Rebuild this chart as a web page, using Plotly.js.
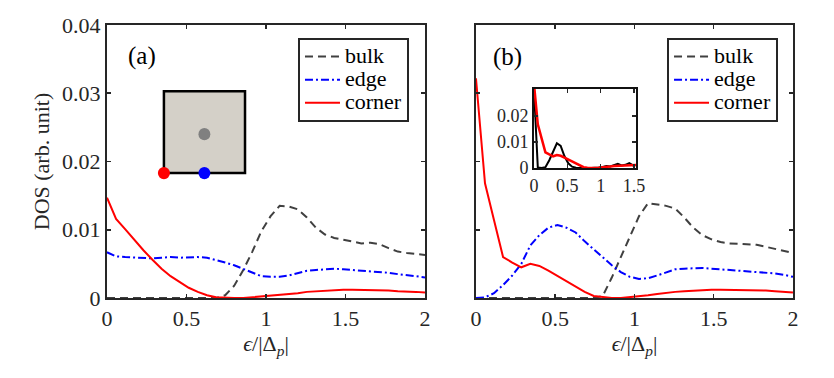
<!DOCTYPE html>
<html>
<head>
<meta charset="utf-8">
<script src="https://cdn.plot.ly/plotly-3.0.1.min.js"></script>
<style>
  html, body { margin: 0; padding: 0; background: #fff; }
  #chart { width: 834px; height: 378px; }
</style>
</head>
<body>
<div id="chart"></div>
<script>
// energy grid, eps/|Delta_p|
var energy = [0, 0.057, 0.114, 0.171, 0.229, 0.286, 0.343, 0.4, 0.457, 0.514,
  0.571, 0.629, 0.686, 0.743, 0.8, 0.857, 0.914, 0.971, 1.029, 1.086,
  1.143, 1.2, 1.257, 1.314, 1.371, 1.429, 1.486, 1.543, 1.6, 1.657,
  1.714, 1.771, 1.829, 1.886, 1.943, 2.0];

// panel (a)
var bulkA = [0, 0, 0, 0, 0, 0, 0, 0, 0, 0,
  0, 0, 0, 0.0004, 0.0018, 0.0041, 0.0068, 0.0098, 0.0120, 0.0135,
  0.0134, 0.0130, 0.0118, 0.0103, 0.0093, 0.0088, 0.0085, 0.0082, 0.0080, 0.0081,
  0.0079, 0.0073, 0.0068, 0.0066, 0.0064, 0.0063];
var edgeA = [0.0067, 0.0061, 0.0060, 0.0059, 0.0058, 0.0058, 0.0059, 0.0060, 0.0059, 0.0060,
  0.0060, 0.0059, 0.0056, 0.0052, 0.0048, 0.0043, 0.0037, 0.0032, 0.0031, 0.0031,
  0.0033, 0.0037, 0.0040, 0.0041, 0.0042, 0.0043, 0.0042, 0.0041, 0.0041, 0.0040,
  0.0039, 0.0037, 0.0035, 0.0034, 0.0032, 0.0030];
var cornerA = [0.0147, 0.0116, 0.0101, 0.0085, 0.0070, 0.0056, 0.0043, 0.0032, 0.0023, 0.0015,
  0.0009, 0.0004, 0.0001, 0.0000, 0.0000, 0.0000, 0.0001, 0.0002, 0.0003, 0.0004,
  0.0006, 0.0007, 0.0009, 0.0010, 0.0011, 0.0012, 0.0012, 0.0012, 0.0012, 0.0011,
  0.0011, 0.0011, 0.0010, 0.0010, 0.0009, 0.0008];

// panel (b)
var bulkB = [0, 0, 0, 0, 0, 0, 0, 0, 0, 0,
  0, 0, 0, 0, 0.0003, 0.0030, 0.0060, 0.0091, 0.0120, 0.0139,
  0.0137, 0.0135, 0.0131, 0.0118, 0.0103, 0.0092, 0.0086, 0.0082, 0.0080, 0.0079,
  0.0078, 0.0078, 0.0075, 0.0072, 0.0069, 0.0066];
var edgeB = [0, 0.0001, 0.0007, 0.0019, 0.0033, 0.0050, 0.0077, 0.0092, 0.0103, 0.0107,
  0.0103, 0.0096, 0.0083, 0.0071, 0.0060, 0.0048, 0.0038, 0.0031, 0.0028, 0.0029,
  0.0033, 0.0038, 0.0042, 0.0043, 0.0044, 0.0044, 0.0043, 0.0042, 0.0041, 0.0041,
  0.0040, 0.0039, 0.0037, 0.0036, 0.0034, 0.0031];
var cornerB = [0.0322, 0.0168, 0.0114, 0.0060, 0.0052, 0.0045, 0.0050, 0.0047, 0.0040, 0.0032,
  0.0024, 0.0016, 0.0009, 0.0003, 0.0001, 0.0000, 0.0000, 0.0001, 0.0002, 0.0004,
  0.0006, 0.0008, 0.0009, 0.0010, 0.0011, 0.0012, 0.0012, 0.0012, 0.0012, 0.0012,
  0.0011, 0.0011, 0.0011, 0.0010, 0.0009, 0.0008];

// inset of (b): black curve, first 28 energies
var insetBlack = [0.0300, 0.0002, 0, 0.0003, 0.0030, 0.0060, 0.0095, 0.0085, 0.0045, 0.0018,
  0.0005, 0.0001, 0, 0, 0, 0, 0, 0.0002, 0.0004, 0.0008,
  0.0006, 0.0010, 0.0016, 0.0010, 0.0012, 0.0019, 0.0010, 0.0012];

var seriesNames = ['bulk', 'edge', 'corner'];
var xTicks = [0, 0.5, 1, 1.5, 2];
var yTicks = [0, 0.01, 0.02, 0.03, 0.04];
var yTickText = ['0', '0.01', '0.02', '0.03', '0.04'];
var insetXTicks = [0, 0.5, 1, 1.5];
var insetYTicks = [0, 0.01, 0.02];
var insetYTickText = ['0', '0.01', '0.02'];

var serif = 'Liberation Serif';
var ink = '#262626';
var bulkStyle = {color: '#404040', width: 2, dash: '8px,5px'};
var edgeStyle = {color: '#0000ff', width: 2, dash: '8px,3px,2px,3px'};
var cornerStyle = {color: '#ff0000', width: 2};

// legend rows are spaced by the legend font size, so the label itself is set bigger
function legendName(s) {
  return '<span style="font-size:22px">' + s + '</span>';
}

var traces = [
  {x: energy, y: bulkA, name: legendName(seriesNames[0]), mode: 'lines', line: bulkStyle, xaxis: 'x', yaxis: 'y', legend: 'legend'},
  {x: energy, y: edgeA, name: legendName(seriesNames[1]), mode: 'lines', line: edgeStyle, xaxis: 'x', yaxis: 'y', legend: 'legend'},
  {x: energy, y: cornerA, name: legendName(seriesNames[2]), mode: 'lines', line: cornerStyle, xaxis: 'x', yaxis: 'y', legend: 'legend'},
  {x: energy, y: bulkB, name: legendName(seriesNames[0]), mode: 'lines', line: bulkStyle, xaxis: 'x2', yaxis: 'y2', legend: 'legend2'},
  {x: energy, y: edgeB, name: legendName(seriesNames[1]), mode: 'lines', line: edgeStyle, xaxis: 'x2', yaxis: 'y2', legend: 'legend2'},
  {x: energy, y: cornerB, name: legendName(seriesNames[2]), mode: 'lines', line: cornerStyle, xaxis: 'x2', yaxis: 'y2', legend: 'legend2'},
  {x: energy.slice(0, insetBlack.length), y: insetBlack, mode: 'lines', showlegend: false,
    line: {color: '#000', width: 2}, xaxis: 'x3', yaxis: 'y3'},
  {x: energy.slice(0, 28), y: cornerB.slice(0, 28), mode: 'lines', showlegend: false,
    line: {color: '#ff0000', width: 2.5}, xaxis: 'x3', yaxis: 'y3'}
];

function boxAxis(extra) {
  var ax = {
    showline: true, linecolor: ink, linewidth: 2, mirror: 'ticks',
    ticks: 'inside', ticklen: 4, tickwidth: 1.5, tickcolor: ink,
    showgrid: false, zeroline: false, fixedrange: true,
    tickfont: {family: serif, size: 22, color: ink}
  };
  for (var k in extra) ax[k] = extra[k];
  return ax;
}

var xTitle = {
  text: '<i>\u03F5</i>/|\u0394<sub><i>p</i></sub>|',
  font: {family: serif, size: 22, color: ink},
  standoff: 4
};

var plotDomY = [0.2116, 0.9339];

var legendBase = {
  xanchor: 'left', yanchor: 'top', bgcolor: '#fff',
  bordercolor: ink, borderwidth: 2, itemwidth: 35,
  font: {family: serif, size: 15.5, color: '#000'},
  tracegroupgap: 0, itemclick: false, itemdoubleclick: false
};

var layout = {
  width: 834, height: 378,
  margin: {l: 0, r: 0, t: 0, b: 0},
  paper_bgcolor: '#fff', plot_bgcolor: '#fff',
  font: {family: serif},
  xaxis: boxAxis({domain: [0.1283, 0.5096], range: [0, 2], tickvals: xTicks, anchor: 'y', title: xTitle}),
  yaxis: boxAxis({domain: plotDomY, range: [0, 0.04], tickvals: yTicks, ticktext: yTickText, anchor: 'x',
    title: {text: 'DOS (arb. unit)', font: {family: serif, size: 22, color: ink}, standoff: 6}}),
  xaxis2: boxAxis({domain: [0.5707, 0.9508], range: [0, 2], tickvals: xTicks, anchor: 'y2', title: xTitle}),
  yaxis2: boxAxis({domain: plotDomY, range: [0, 0.04], tickvals: yTicks, showticklabels: false, anchor: 'x2'}),
  xaxis3: boxAxis({domain: [0.6403, 0.7626], range: [0, 1.53], tickvals: insetXTicks, anchor: 'y3',
    linecolor: '#111', tickfont: {family: serif, size: 18, color: ink}}),
  yaxis3: boxAxis({domain: [0.5556, 0.7646], range: [0, 0.0304], tickvals: insetYTicks, ticktext: insetYTickText,
    anchor: 'x3', linecolor: '#111', tickfont: {family: serif, size: 18, color: ink}}),
  legend: Object.assign({x: 0.3573, y: 0.8995}, legendBase),
  legend2: Object.assign({x: 0.7998, y: 0.8995}, legendBase),
  annotations: [
    {text: '(a)', xref: 'paper', yref: 'paper', x: 0.1703, y: 0.852, xanchor: 'center', yanchor: 'middle',
      showarrow: false, font: {family: serif, size: 25, color: '#000'}},
    {text: '(b)', xref: 'paper', yref: 'paper', x: 0.609, y: 0.849, xanchor: 'center', yanchor: 'middle',
      showarrow: false, font: {family: serif, size: 25, color: '#000'}}
  ],
  // sketch of the sample inside panel (a)
  shapes: [
    {type: 'rect', xref: 'x', yref: 'y', x0: 0.358, x1: 0.868, y0: 0.0183, y1: 0.0303,
      fillcolor: '#d4d0c8', line: {color: '#000', width: 2.5}},
    {type: 'circle', xref: 'x', yref: 'y', x0: 0.575, x1: 0.650, y0: 0.0231, y1: 0.0249,
      fillcolor: '#808080', line: {width: 0}},
    {type: 'circle', xref: 'x', yref: 'y', x0: 0.320, x1: 0.396, y0: 0.0174, y1: 0.0192,
      fillcolor: '#ff0000', line: {width: 0}},
    {type: 'circle', xref: 'x', yref: 'y', x0: 0.575, x1: 0.650, y0: 0.0174, y1: 0.0192,
      fillcolor: '#0000ff', line: {width: 0}}
  ]
};

Plotly.newPlot('chart', traces, layout, {staticPlot: true, displayModeBar: false});
</script>
</body>
</html>
